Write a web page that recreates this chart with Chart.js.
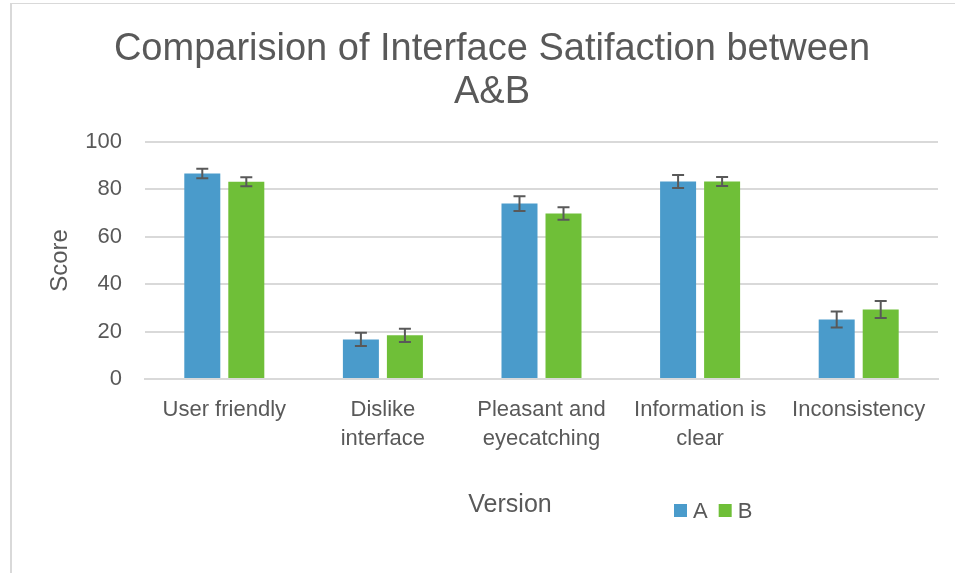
<!DOCTYPE html>
<html>
<head>
<meta charset="utf-8">
<script src="https://cdn.jsdelivr.net/npm/chart.js@4.4.1/dist/chart.umd.min.js"></script>
<style>
    html, body { margin: 0; padding: 0; background: #ffffff; }
    #wrap { position: relative; width: 955px; height: 573px; overflow: hidden; }
    /* cadre gris du graphique (bord gauche et haut visibles) */
    #frame { position: absolute; left: 10px; top: 3px; width: 990px; height: 620px;
             border-left: 2px solid #d9d9d9; border-top: 1px solid #d9d9d9; pointer-events: none; }
</style>
</head>
<body>
<div id="wrap">
    <div id="frame"></div>
    <canvas id="chart"></canvas>
</div>
<script>
// --- Données ---
const categories = [['User friendly'], ['Dislike', 'interface'], ['Pleasant and', 'eyecatching'], ['Information is', 'clear'], ['Inconsistency']];
const seriesNames = ['A', 'B'];
const valuesA = [86.7, 16.7, 74.0, 83.3, 25.1];
const valuesB = [83.2, 18.4, 69.8, 83.3, 29.3];
const errorA = [2.0, 2.8, 3.1, 2.7, 3.4];
const errorB = [1.9, 2.8, 2.6, 1.9, 3.6];
const yMin = 0;
const yMax = 100;
const yStep = 20;

const textColor = '#595959';
const gridColor = '#d9d9d9';
const colorA = '#4A9BCB';
const colorB = '#6FBF38';
const fontFamily = '"Liberation Sans", Arial, sans-serif';

Chart.defaults.font.family = fontFamily;
Chart.defaults.color = textColor;

// Barres d'erreur dessinées à partir des échelles
const errorBarsPlugin = {
    id: 'errorBars',
    afterDatasetsDraw(chart) {
        const ctx = chart.ctx;
        const yScale = chart.scales.y;
        chart.data.datasets.forEach((ds, i) => {
            const meta = chart.getDatasetMeta(i);
            meta.data.forEach((bar, j) => {
                const v = ds.data[j];
                const e = ds.errors[j];
                const top = yScale.getPixelForValue(v + e);
                const bottom = yScale.getPixelForValue(v - e);
                ctx.save();
                ctx.strokeStyle = textColor;
                ctx.lineWidth = 2;
                ctx.beginPath();
                ctx.moveTo(bar.x, top);
                ctx.lineTo(bar.x, bottom);
                ctx.moveTo(bar.x - 6, top);
                ctx.lineTo(bar.x + 6, top);
                ctx.moveTo(bar.x - 6, bottom);
                ctx.lineTo(bar.x + 6, bottom);
                ctx.stroke();
                ctx.restore();
            });
        });
    }
};

// Titre de l'axe X et légende sur la même ligne
const bottomRowPlugin = {
    id: 'bottomRow',
    afterDraw(chart) {
        const ctx = chart.ctx;
        const rowY = 505;
        ctx.save();
        ctx.fillStyle = textColor;
        ctx.textBaseline = 'middle';
        ctx.textAlign = 'center';
        ctx.font = '25px ' + fontFamily;
        ctx.fillText('Version', 510, rowY);

        ctx.textAlign = 'left';
        ctx.font = '22px ' + fontFamily;
        let x = 674;
        chart.data.datasets.forEach(ds => {
            ctx.fillStyle = ds.backgroundColor;
            ctx.fillRect(x, rowY - 1, 13, 13);
            ctx.fillStyle = textColor;
            ctx.fillText(ds.label, x + 19, rowY + 7);
            x += 19 + ctx.measureText(ds.label).width + 11;
        });
        ctx.restore();
    }
};

const chart = new Chart(document.getElementById('chart'), {
    type: 'bar',
    data: {
        labels: categories,
        datasets: [{
            label: seriesNames[0],
            data: valuesA,
            errors: errorA,
            backgroundColor: colorA,
            categoryPercentage: 0.555,
            barPercentage: 0.818
        }, {
            label: seriesNames[1],
            data: valuesB,
            errors: errorB,
            backgroundColor: colorB,
            categoryPercentage: 0.555,
            barPercentage: 0.818
        }]
    },
    options: {
        responsive: true,
        maintainAspectRatio: false,
        animation: false,
        layout: {
            padding: { left: 46, right: 17, top: 0, bottom: 0 }
        },
        scales: {
            x: {
                grid: { display: false },
                border: { display: true, color: gridColor, width: 2 },
                ticks: {
                    color: textColor,
                    font: { size: 22, lineHeight: 1.3 },
                    maxRotation: 0,
                    autoSkip: false,
                    padding: 9
                },
                afterFit: scale => { scale.height = 194; }
            },
            y: {
                min: yMin,
                max: yMax,
                ticks: {
                    stepSize: yStep,
                    color: textColor,
                    font: { size: 22 },
                    padding: 23
                },
                grid: { color: gridColor, lineWidth: 2, drawTicks: false },
                border: { display: false },
                title: {
                    display: true,
                    text: 'Score',
                    color: textColor,
                    font: { size: 24 },
                    padding: { top: 0, bottom: 0 }
                },
                afterFit: scale => { scale.width = 99; }
            }
        },
        plugins: {
            legend: { display: false },
            tooltip: { enabled: false },
            title: {
                display: true,
                text: ['Comparision of Interface Satifaction between', 'A&B'],
                color: textColor,
                font: { size: 38, weight: 'normal', lineHeight: 1.13 },
                padding: { top: 28, bottom: 28 }
            }
        }
    },
    plugins: [errorBarsPlugin, bottomRowPlugin]
});
</script>
</body>
</html>
